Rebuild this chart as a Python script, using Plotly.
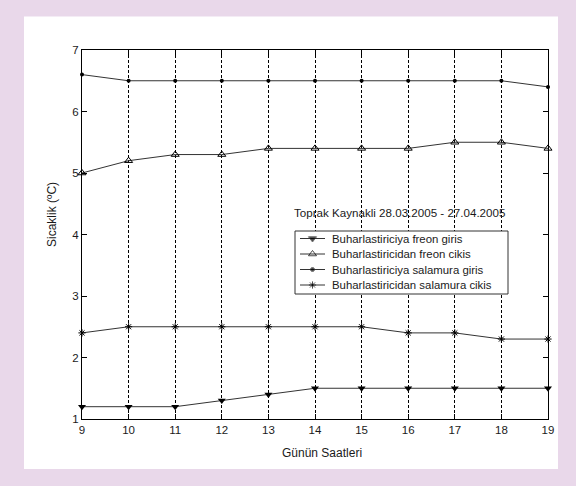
import plotly.graph_objects as go

# Hours of the day (x axis)
hours = [9, 10, 11, 12, 13, 14, 15, 16, 17, 18, 19]

# Temperatures (°C) for each series
freon_giris = [1.2, 1.2, 1.2, 1.3, 1.4, 1.5, 1.5, 1.5, 1.5, 1.5, 1.5]
freon_cikis = [5.0, 5.2, 5.3, 5.3, 5.4, 5.4, 5.4, 5.4, 5.5, 5.5, 5.4]
salamura_giris = [6.6, 6.5, 6.5, 6.5, 6.5, 6.5, 6.5, 6.5, 6.5, 6.5, 6.4]
salamura_cikis = [2.4, 2.5, 2.5, 2.5, 2.5, 2.5, 2.5, 2.4, 2.4, 2.3, 2.3]

series_names = [
    "Buharlastiriciya freon giris",
    "Buharlastiricidan freon cikis",
    "Buharlastiriciya salamura giris",
    "Buharlastiricidan salamura cikis",
]

W, H = 576, 486
L, R, T, B = 82, 548, 50, 419  # plot area in pixels
X_RANGE = [9, 19]
Y_RANGE = [1, 7]


def px_to_x(px):
    return X_RANGE[0] + (px - L) / (R - L) * (X_RANGE[1] - X_RANGE[0])


def px_to_y(py):
    return Y_RANGE[1] - (py - T) / (B - T) * (Y_RANGE[1] - Y_RANGE[0])


LINE = dict(color="#333333", width=1)
MARKERS = [
    dict(symbol="triangle-down", size=7, color="black"),
    dict(symbol="triangle-up-open", size=7, color="black", line=dict(width=1, color="black")),
    dict(symbol="circle", size=4, color="black"),
    dict(symbol="asterisk-open", size=6, color="black", line=dict(width=1, color="black")),
]
series = [freon_giris, freon_cikis, salamura_giris, salamura_cikis]

fig = go.Figure()
for name, ys, mk in zip(series_names, series, MARKERS):
    fig.add_trace(go.Scatter(x=hours, y=ys, name=name, mode="lines+markers",
                             line=LINE, marker=mk, cliponaxis=False, showlegend=False))

# Compact boxed legend placed in pixel terms
leg_left, leg_right, leg_top, leg_bottom = 295, 508, 231, 294
row_y = [238.5, 254, 269.5, 285]
sample_x0, sample_x1 = 300, 325
for name, mk, ry in zip(series_names, MARKERS, row_y):
    mid = (sample_x0 + sample_x1) / 2
    m = dict(mk)
    m["size"] = [0, mk["size"], 0]
    fig.add_trace(go.Scatter(x=[px_to_x(sample_x0), px_to_x(mid), px_to_x(sample_x1)],
                             y=[px_to_y(ry)] * 3, mode="lines+markers",
                             line=LINE, marker=m, showlegend=False, hoverinfo="skip",
                             cliponaxis=False))

font = "Liberation Sans, Arial, sans-serif"
txt = "#1a1a1a"

annotations = [
    dict(text="Toprak Kaynakli 28.03.2005 - 27.04.2005", xref="x", yref="y",
         x=px_to_x(292), y=px_to_y(212), xanchor="left", yanchor="middle",
         showarrow=False, font=dict(size=11.6, color=txt)),
    dict(text="Günün Saatleri", xref="x", yref="paper",
         x=px_to_x(322), y=-(453 - B) / (B - T), xanchor="center", yanchor="middle",
         showarrow=False, font=dict(size=12, color=txt)),
    dict(text="Sicaklik (ºC)", xref="paper", yref="y", textangle=-90,
         x=-(L - 52) / (R - L), y=px_to_y(215), xanchor="center", yanchor="middle",
         showarrow=False, font=dict(size=12, color=txt)),
]
for name, ry in zip(series_names, row_y):
    annotations.append(dict(text=name, xref="x", yref="y", x=px_to_x(330), y=px_to_y(ry),
                            xanchor="left", yanchor="middle", showarrow=False,
                            font=dict(size=11.4, color=txt)))

shapes = [
    # white panel behind the chart
    dict(type="rect", xref="paper", yref="paper",
         x0=(24 - L) / (R - L), x1=(558 - L) / (R - L),
         y0=(B - 469) / (B - T), y1=(B - 16.5) / (B - T),
         fillcolor="white", line=dict(width=0), layer="below"),
    # legend box, above the gridlines and below the legend samples
    dict(type="rect", xref="x", yref="y",
         x0=px_to_x(leg_left), x1=px_to_x(leg_right),
         y0=px_to_y(leg_bottom), y1=px_to_y(leg_top),
         fillcolor="white", line=dict(width=1, color="#333"), layer="between"),
]

fig.update_layout(
    width=W, height=H,
    margin=dict(l=L, r=W - R, t=T, b=H - B),
    paper_bgcolor="#E9D8EA",
    plot_bgcolor="rgba(0,0,0,0)",
    font=dict(family=font, size=11, color=txt),
    showlegend=False,
    xaxis=dict(range=X_RANGE, tickvals=hours, ticks="inside", ticklen=5, tickcolor="black",
               showline=True, linecolor="black", linewidth=1, mirror="ticks",
               showgrid=True, gridcolor="black", gridwidth=1, griddash="3px,2px",
               zeroline=False, tickfont=dict(size=11.5)),
    yaxis=dict(range=Y_RANGE, tickvals=[1, 2, 3, 4, 5, 6, 7], ticks="inside", ticklen=5,
               tickcolor="black", showline=True, linecolor="black", linewidth=1, mirror="ticks",
               showgrid=False, zeroline=False, tickfont=dict(size=11.5)),
    shapes=shapes,
    annotations=annotations,
)

fig.write_html("out.html")
